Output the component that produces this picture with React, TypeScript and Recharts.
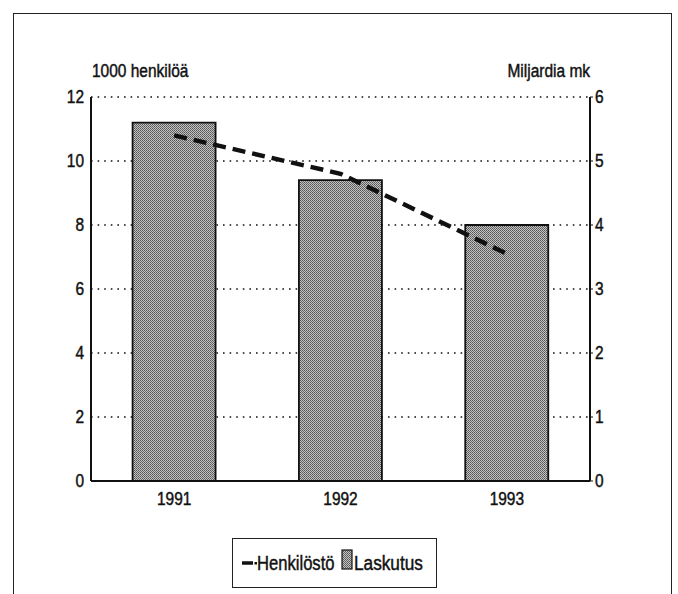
import React from "react";
import {
  ComposedChart,
  Bar,
  Line,
  XAxis,
  YAxis,
  CartesianGrid,
} from "recharts";

const years = ["1991", "1992", "1993"];
const henkilosto = [10.8, 9.6, 7.1];
const laskutus = [5.6, 4.7, 4.0];
const leftTicks = [0, 2, 4, 6, 8, 10, 12];
const rightTicks = [0, 1, 2, 3, 4, 5, 6];

const FONT = "'Liberation Sans', Arial, sans-serif";
const INK = "#111";
const SQUEEZE = 0.86;

const data = years.map((y, i) => ({
  year: y,
  henkilosto: henkilosto[i],
  laskutus: laskutus[i],
}));

// narrow Helvetica look: plain sans squeezed horizontally around its anchor
function NarrowTick(props: any) {
  const { x, y, payload, textAnchor, dy } = props;
  return (
    <text
      x={x}
      y={y}
      dy={dy}
      textAnchor={textAnchor}
      fontFamily={FONT}
      fontSize={18}
      fill={INK}
      stroke={INK}
      strokeWidth={0.45}
      transform={`translate(${x} ${y}) scale(${SQUEEZE} 1) translate(${-x} ${-y})`}
    >
      {payload.value}
    </text>
  );
}

function Narrow({
  children,
  origin = "left",
  squeeze = SQUEEZE,
}: {
  children: React.ReactNode;
  origin?: string;
  squeeze?: number;
}) {
  return (
    <span
      style={{
        display: "inline-block",
        whiteSpace: "nowrap",
        transform: `scaleX(${squeeze})`,
        transformOrigin: origin,
        WebkitTextStroke: "0.45px #111",
      }}
    >
      {children}
    </span>
  );
}

function Stipple({ id }: { id: string }) {
  return (
    <pattern id={id} width="2" height="2" patternUnits="userSpaceOnUse">
      <rect width="2" height="2" fill="#c2c2c2" />
      <rect x="0" y="0" width="1" height="1" fill="#555" />
      <rect x="1" y="1" width="1" height="1" fill="#6a6a6a" />
    </pattern>
  );
}

export default function App() {
  return (
    <div
      style={{
        position: "absolute",
        left: 0,
        top: 0,
        width: 678,
        height: 594,
        background: "#fff",
        overflow: "hidden",
        fontFamily: FONT,
        fontSize: 18,
        lineHeight: "18px",
        color: INK,
      }}
    >
      <div
        style={{
          position: "absolute",
          left: 13,
          top: 13,
          width: 657,
          height: 600,
          border: "1.5px solid #222",
        }}
      />
      <div style={{ position: "absolute", left: 92, top: 62 }}>
        <Narrow>1000 henkilöä</Narrow>
      </div>
      <div
        style={{
          position: "absolute",
          right: 678 - 590,
          top: 62,
          textAlign: "right",
        }}
      >
        <Narrow origin="right">Miljardia mk</Narrow>
      </div>

      <div style={{ position: "absolute", left: 0, top: 0 }}>
        <ComposedChart
          width={678}
          height={594}
          data={data}
          margin={{ top: 97, right: 0, bottom: 83, left: 0 }}
          barCategoryGap="25%"
        >
          <defs>
            <Stipple id="stipple" />
          </defs>
          <CartesianGrid
            yAxisId="left"
            horizontal
            vertical={false}
            stroke={INK}
            strokeWidth={1.6}
            strokeDasharray="1.6 5"
          />
          <XAxis
            dataKey="year"
            height={30}
            tickLine={false}
            tickSize={5}
            tickMargin={6}
            axisLine={{ stroke: INK, strokeWidth: 2 }}
            tick={(p: any) => <NarrowTick {...p} dy="0.71em" />}
          />
          <YAxis
            yAxisId="left"
            orientation="left"
            width={91}
            domain={[0, 12]}
            ticks={leftTicks}
            interval={0}
            tickLine={false}
            tickSize={4}
            tickMargin={3}
            axisLine={{ stroke: INK, strokeWidth: 2 }}
            tick={(p: any) => <NarrowTick {...p} dy="0.36em" />}
          />
          <YAxis
            yAxisId="right"
            orientation="right"
            width={88}
            domain={[0, 6]}
            ticks={rightTicks}
            interval={0}
            tickLine={{ stroke: INK, strokeWidth: 1 }}
            tickSize={3}
            tickMargin={2}
            axisLine={{ stroke: INK, strokeWidth: 2 }}
            tick={(p: any) => <NarrowTick {...p} dy="0.36em" />}
          />
          <Bar
            yAxisId="right"
            dataKey="laskutus"
            name="Laskutus"
            fill="url(#stipple)"
            stroke={INK}
            strokeWidth={1.8}
            isAnimationActive={false}
          />
          <Line
            yAxisId="left"
            dataKey="henkilosto"
            name="Henkilöstö"
            type="linear"
            stroke={INK}
            strokeWidth={4.5}
            strokeDasharray="13 7"
            dot={false}
            activeDot={false}
            isAnimationActive={false}
          />
        </ComposedChart>
      </div>

      <div
        style={{
          position: "absolute",
          left: 232,
          top: 538,
          width: 205,
          height: 50,
          border: "1.5px solid #222",
          boxSizing: "border-box",
          fontSize: 20,
          lineHeight: "20px",
        }}
      >
        <svg
          width={18}
          height={10}
          style={{ position: "absolute", left: 7.5, top: 18.5 }}
        >
          <line x1={1} y1={5} x2={12} y2={5} stroke={INK} strokeWidth={3.5} />
          <rect x={13.5} y={4} width={2.5} height={2.5} fill={INK} />
        </svg>
        <div style={{ position: "absolute", left: 23.5, top: 13.5 }}>
          <Narrow squeeze={0.83}>Henkilöstö</Narrow>
        </div>
        <svg
          width={12}
          height={21}
          style={{ position: "absolute", left: 107.5, top: 9.5 }}
        >
          <defs>
            <Stipple id="stipple-legend" />
          </defs>
          <rect
            x={1}
            y={1}
            width={10}
            height={19}
            fill="url(#stipple-legend)"
            stroke={INK}
            strokeWidth={1.2}
          />
        </svg>
        <div style={{ position: "absolute", left: 121, top: 13.5 }}>
          <Narrow squeeze={0.86}>Laskutus</Narrow>
        </div>
      </div>
    </div>
  );
}
